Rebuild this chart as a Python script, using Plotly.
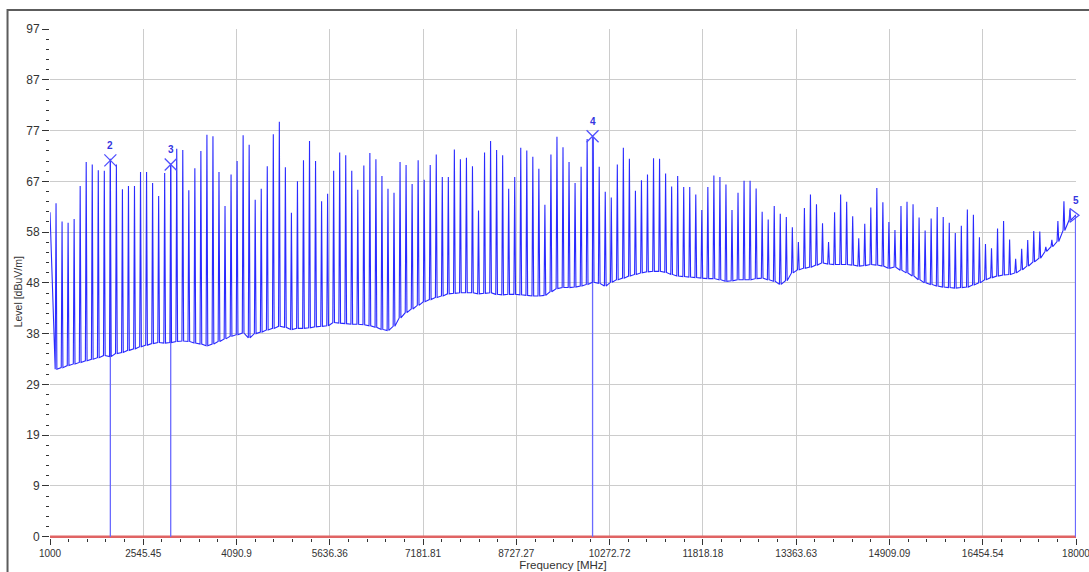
import plotly.graph_objects as go

# ---------------- data ----------------
x_tick_vals = [1000, 2545.4545, 4090.9091, 5636.3636, 7181.8182, 8727.2727,
               10272.7273, 11818.1818, 13363.6364, 14909.0909, 16454.5455, 18000]
x_tick_text = ["1000", "2545.45", "4090.9", "5636.36", "7181.81", "8727.27",
               "10272.72", "11818.18", "13363.63", "14909.09", "16454.54", "18000"]
y_tick_vals = [0, 9.7, 19.4, 29.1, 38.8, 48.5, 58.2, 67.9, 77.6, 87.3, 97]
y_tick_text = ["0", "9", "19", "29", "38", "48", "58", "67", "77", "87", "97"]

# harmonic spikes (MHz)
spike_freq = [
    1100, 1200, 1300, 1400, 1500, 1600, 1700, 1800, 1900, 2000,
    2100, 2200, 2300, 2400, 2500, 2600, 2700, 2800, 2900, 3000,
    3100, 3200, 3300, 3400, 3500, 3600, 3700, 3800, 3900, 4000,
    4100, 4200, 4300, 4400, 4500, 4600, 4700, 4800, 4900, 5000,
    5100, 5200, 5300, 5400, 5500, 5600, 5700, 5800, 5900, 6000,
    6100, 6200, 6300, 6400, 6500, 6600, 6700, 6800, 6900, 7000,
    7100, 7200, 7300, 7400, 7500, 7600, 7700, 7800, 7900, 8000,
    8100, 8200, 8300, 8400, 8500, 8600, 8700, 8800, 8900, 9000,
    9100, 9200, 9300, 9400, 9500, 9600, 9700, 9800, 9900, 10000,
    10100, 10200, 10300, 10400, 10500, 10600, 10700, 10800, 10900, 11000,
    11100, 11200, 11300, 11400, 11500, 11600, 11700, 11800, 11900, 12000,
    12100, 12200, 12300, 12400, 12500, 12600, 12700, 12800, 12900, 13000,
    13100, 13200, 13300, 13400, 13500, 13600, 13700, 13800, 13900, 14000,
    14100, 14200, 14300, 14400, 14500, 14600, 14700, 14800, 14900, 15000,
    15100, 15200, 15300, 15400, 15500, 15600, 15700, 15800, 15900, 16000,
    16100, 16200, 16300, 16400, 16500, 16600, 16700, 16800, 16900, 17000,
    17100, 17200, 17300, 17400, 17500, 17600, 17700, 17800, 17900,
]
# peak level of each spike (dBuV/m)
spike_peak = [
    63.7, 60.2, 60.0, 60.7, 67.0, 71.6, 71.1, 70.0, 69.9, 72.2,
    71.1, 66.4, 67.0, 67.0, 69.7, 69.7, 67.6, 65.1, 69.5, 71.3,
    74.1, 73.9, 66.2, 70.4, 73.7, 76.8, 76.5, 69.7, 63.2, 69.2,
    71.8, 76.7, 74.9, 64.4, 66.5, 70.8, 76.9, 79.3, 70.6, 61.9,
    67.9, 71.9, 75.6, 71.8, 64.1, 65.5, 69.9, 73.4, 72.9, 69.9,
    66.3, 70.9, 73.3, 72.1, 68.9, 66.5, 65.7, 71.6, 71.0, 67.4,
    71.9, 68.2, 71.0, 73.0, 68.7, 68.7, 74.0, 72.1, 72.4, 70.8,
    62.3, 73.4, 75.6, 73.9, 72.9, 66.5, 68.7, 74.3, 73.8, 72.6,
    70.3, 63.4, 73.0, 76.4, 74.4, 71.6, 67.6, 70.7, 76.0, 76.3,
    70.7, 65.9, 64.8, 71.1, 74.3, 72.2, 66.1, 68.1, 69.2, 72.3,
    72.2, 69.4, 66.9, 68.9, 66.8, 66.8, 65.4, 62.4, 66.8, 69.0,
    68.7, 67.3, 62.4, 65.7, 68.0, 68.0, 66.5, 62.1, 60.6, 63.2,
    61.7, 61.1, 59.1, 56.3, 62.8, 65.4, 63.5, 59.9, 56.3, 62.0,
    65.4, 64.0, 61.2, 57.0, 59.8, 62.9, 66.6, 63.9, 60.1, 58.6,
    63.2, 64.0, 63.5, 61.0, 58.5, 60.8, 63.0, 61.1, 60.0, 58.0,
    59.4, 62.5, 61.5, 57.2, 55.9, 55.1, 58.9, 60.3, 56.8, 53.1,
    55.0, 56.7, 58.4, 58.3, 55.4, 56.7, 60.3, 64.1, 62.4,
]
# noise floor next to each spike (dBuV/m)
spike_floor = [
    32.0, 32.3, 32.7, 33.0, 33.3, 33.6, 33.9, 34.2, 34.6, 34.4,
    35.0, 35.2, 35.6, 35.9, 36.3, 36.6, 36.9, 37.1, 37.0, 37.1,
    37.3, 37.4, 37.3, 37.0, 36.8, 36.5, 36.8, 37.3, 37.8, 38.3,
    38.6, 38.9, 38.0, 38.8, 39.1, 39.5, 39.8, 40.2, 40.0, 39.6,
    39.8, 39.8, 39.9, 40.1, 40.2, 40.3, 40.9, 40.8, 40.7, 40.6,
    40.6, 40.5, 40.3, 40.0, 39.6, 39.4, 40.2, 41.8, 42.8, 43.5,
    44.2, 44.9, 45.3, 45.7, 46.0, 46.4, 46.5, 46.6, 46.6, 46.6,
    46.4, 46.5, 46.6, 46.3, 46.2, 46.3, 46.3, 46.2, 46.1, 46.0,
    46.0, 46.1, 46.8, 47.4, 47.6, 47.6, 47.7, 47.9, 48.2, 48.6,
    48.4, 47.9, 48.6, 49.1, 49.4, 49.8, 50.1, 50.4, 50.6, 50.7,
    50.7, 50.5, 50.1, 49.8, 49.7, 49.6, 49.5, 49.4, 49.3, 49.3,
    49.1, 48.8, 48.9, 49.1, 49.1, 49.1, 49.3, 49.4, 49.1, 48.8,
    48.2, 48.9, 50.4, 51.0, 51.3, 51.5, 51.9, 52.3, 52.1, 52.0,
    52.0, 52.0, 51.9, 51.7, 51.8, 52.0, 51.9, 51.7, 51.3, 51.5,
    50.9, 50.4, 49.8, 49.1, 48.5, 48.2, 47.9, 47.7, 47.6, 47.5,
    47.6, 47.7, 48.1, 48.5, 49.1, 49.5, 49.8, 50.0, 50.1, 50.4,
    51.0, 51.7, 52.5, 53.2, 54.5, 55.4, 56.4, 58.5, 60.5,
]
trace_start = [1000, 62.0]
trace_end = [18000, 61.5]

# markers
marker_freq = [2000, 3000, 9990, 18000]
marker_level = [71.9, 71.1, 76.5, 61.4]
marker_label = ["2", "3", "4", "5"]

# limit line
limit_freq = [1000, 18000]
limit_level = [0, 0]

# ---------------- styles ----------------
SPIKE_HALF_WIDTH = 14          # MHz, visual width of each spike
EDGE_MARKER_SHIFT = 50         # MHz, keep the edge marker symbol inside
EDGE_LINE_SHIFT = 8            # MHz, keep the edge marker line visible
TRACE_COLOR = "#2a2aff"
MARKER_COLOR = "#5050ff"
FONT = "Liberation Sans"

# build the measured trace from the read values
xs = [trace_start[0]]
ys = [trace_start[1]]
for f, pk, fl in zip(spike_freq, spike_peak, spike_floor):
    xs += [f - SPIKE_HALF_WIDTH, f, f + SPIKE_HALF_WIDTH]
    ys += [fl, pk, fl]
xs.append(trace_end[0])
ys.append(trace_end[1])

fig = go.Figure()

# limit line (red)
fig.add_trace(go.Scatter(x=limit_freq, y=limit_level, mode="lines",
                         line=dict(color="#e06464", width=2.5),
                         hoverinfo="skip", showlegend=False))

# marker vertical lines
for f, lv in zip(marker_freq, marker_level):
    fx = f if f < 18000 else f - EDGE_LINE_SHIFT
    fig.add_trace(go.Scatter(x=[fx, fx], y=[0, lv], mode="lines",
                             line=dict(color="#6a6aff", width=1.3),
                             hoverinfo="skip", showlegend=False))

# spectrum trace
fig.add_trace(go.Scatter(x=xs, y=ys, mode="lines",
                         line=dict(color=TRACE_COLOR, width=1.1),
                         name="Level", showlegend=False))

# marker symbols
sym_x = [f if f < 18000 else f - EDGE_MARKER_SHIFT for f in marker_freq]
symbols = ["x-thin-open" if f < 18000 else "triangle-right-open" for f in marker_freq]
fig.add_trace(go.Scatter(x=sym_x, y=marker_level, mode="markers",
                         marker=dict(symbol=symbols, size=12, color=MARKER_COLOR,
                                     line=dict(color=MARKER_COLOR, width=1.3)),
                         cliponaxis=False, showlegend=False, hoverinfo="skip"))

for f, lv, lab in zip(marker_freq, marker_level, marker_label):
    fig.add_annotation(x=f, y=lv, text="<b>" + lab + "</b>", showarrow=False,
                       yshift=15, font=dict(family=FONT, size=10, color="#3535e0"))

# y axis title (placed like the reference, slightly below centre)
fig.add_annotation(xref="paper", yref="paper", x=-0.031, y=0.483,
                   text="Level [dBuV/m]", textangle=-90, showarrow=False,
                   xanchor="center", yanchor="middle",
                   font=dict(family=FONT, size=10.5, color="#333333"))

# outer frame
fig.add_shape(type="rect", xref="paper", yref="paper",
              x0=-0.0414, x1=1.03, y0=-0.1, y1=1.0373,
              line=dict(color="#5c5c5c", width=2), fillcolor="rgba(0,0,0,0)")

fig.update_layout(
    width=1089, height=572,
    margin=dict(l=50, r=13, t=29, b=34, autoexpand=False),
    paper_bgcolor="white", plot_bgcolor="white",
    font=dict(family=FONT, color="#333333"),
    showlegend=False,
)
fig.update_xaxes(
    range=[1000, 18000], tickmode="array", tickvals=x_tick_vals, ticktext=x_tick_text,
    tickfont=dict(size=10, color="#333333"), automargin=False, ticklabeloverflow="allow",
    ticks="outside", ticklen=6, tickcolor="#333333", tickwidth=1,
    showgrid=True, gridcolor="#cccccc", gridwidth=1, zeroline=False, showline=False,
    minor=dict(tickmode="linear", tick0=1000, dtick=17000 / 55, ticklen=3,
               tickcolor="#333333", showgrid=False, ticks="outside"),
    title=dict(text="Frequency [MHz]", font=dict(size=11.5, color="#333333"), standoff=0),
)
fig.update_yaxes(
    range=[-0.25, 97], tickmode="array", tickvals=y_tick_vals, ticktext=y_tick_text,
    tickfont=dict(size=12, color="#333333"), automargin=False,
    ticks="outside", ticklen=7, tickcolor="#333333", tickwidth=1,
    showgrid=True, gridcolor="#cccccc", gridwidth=1, zeroline=False, showline=False,
    minor=dict(tickmode="linear", tick0=0, dtick=1.94, ticklen=3,
               tickcolor="#333333", showgrid=False, ticks="outside"),
)

fig.write_html("out.html", config={"displayModeBar": False},
               post_script="document.body.style.margin='0';document.body.style.overflow='hidden';")
